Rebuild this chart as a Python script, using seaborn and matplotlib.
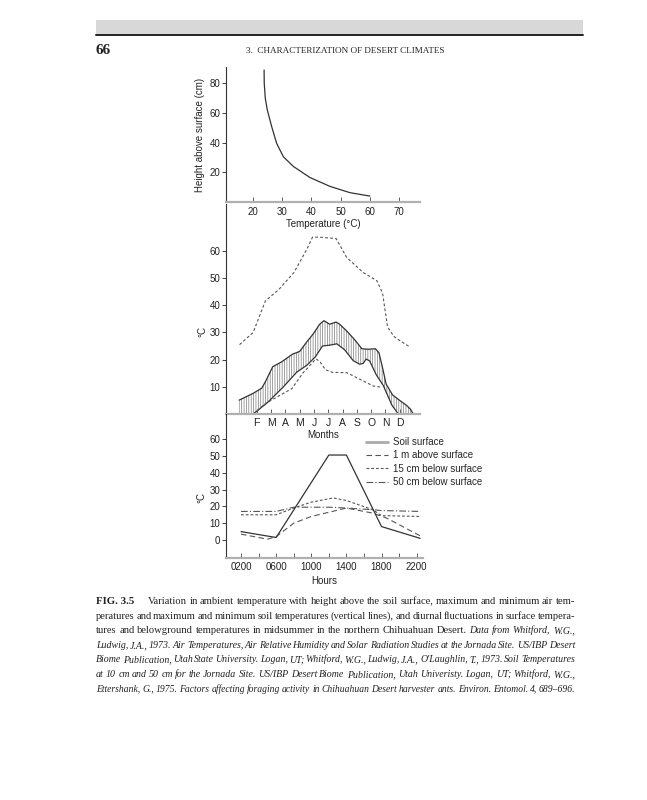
import numpy as np
import matplotlib
matplotlib.use("Agg")
import matplotlib.pyplot as plt
import seaborn as sns
from matplotlib.lines import Line2D
from matplotlib.patches import Rectangle

W, H = 647, 800

# ----------------------------
# Panel 1: temperature vs height above surface
# ----------------------------
height_temp = [23.8, 23.85, 24.2, 24.9, 26.4, 28.1, 30.4, 33.8, 39.5, 46.4, 53.2, 60.0]
height_cm = [89, 80, 70, 62, 50.8, 39.5, 30.5, 24, 16.5, 10.5, 6.3, 4]
temp_ticks = [20, 30, 40, 50, 60, 70]
height_ticks = [20, 40, 60, 80]

# ----------------------------
# Panel 2: monthly air / soil temperatures (x in months, F = 2 ... D = 12)
# ----------------------------
month_ticks = [2, 3, 4, 5, 6, 7, 8, 9, 10, 11, 12]
month_labels = ["F", "M", "A", "M", "J", "J", "A", "S", "O", "N", "D"]
month_yticks = [10, 20, 30, 40, 50, 60]

air_max_m = [0.8, 1.75, 2.6, 3.55, 4.6, 5.5, 5.9, 6.4, 7.55, 8.3, 9.45, 10.4, 10.8, 11.15, 11.6, 12.0, 12.7]
air_max_t = [25.5, 30, 41.5, 45.8, 52, 60.5, 65, 65, 64.5, 57.5, 52, 49, 44.5, 32, 28.5, 27, 24.7]

air_min_m = [1.76, 2.6, 3.6, 4.45, 5.25, 6.15, 6.45, 6.8, 7.3, 8.3, 9.2, 10.15, 10.75]
air_min_t = [0, 3.8, 6.8, 9.3, 15.2, 20.3, 19, 16.3, 15.3, 15.2, 12.8, 10.3, 9.8]

soil_max_m = [0.77, 1.75, 2.35, 2.6, 3.12, 3.75, 4.5, 5.0, 5.5, 5.96, 6.4, 6.7, 7.1, 7.55, 7.8,
              8.3, 8.9, 9.35, 9.8, 10.3, 10.55, 10.8, 11.05, 11.5, 12.0, 12.45, 12.75, 12.95]
soil_max_t = [5.1, 7.6, 9.5, 11.8, 17.4, 19.2, 22, 23, 26.5, 29.5, 33, 34.3, 33, 33.8, 33,
              30.5, 27, 24, 23.8, 24, 22.5, 17, 11, 7, 5, 3.3, 1.8, 0]

soil_min_m = [1.76, 2.75, 3.85, 4.8, 5.5, 6.1, 6.6, 7.1, 7.6, 8.15, 8.75, 9.2, 9.45, 9.65, 9.9,
              10.35, 10.85, 11.45, 11.9]
soil_min_t = [0, 4.2, 9.9, 15.4, 17.9, 21, 25, 25.3, 25.8, 23.6, 19.6, 18.3, 18.6, 20.2, 19.5,
              14.5, 10.5, 3.3, 0]

# ----------------------------
# Panel 3: diurnal temperatures in midsummer
# ----------------------------
hour_ticks = [2, 6, 10, 14, 18, 22]
hour_labels = ["0200", "0600", "1000", "1400", "1800", "2200"]
hour_minor = [4, 8, 12, 16, 20]
hour_yticks = [0, 10, 20, 30, 40, 50, 60]

surf_h = [2, 6, 12, 14, 18, 22.4]
surf_t = [5, 1.5, 50.5, 50.5, 8, 1]

air1m_h = [2, 5, 6, 8, 10, 14, 17, 18.6, 22.4]
air1m_t = [3.5, 0.5, 2, 10, 14, 19, 16, 13, 2.5]

cm15_h = [2, 6, 8, 10, 12.5, 14, 17, 18, 22.4]
cm15_t = [15, 15, 19, 22.5, 25, 23.5, 18, 14.5, 14]

cm50_h = [2, 6, 8, 12, 14, 17, 18, 22.4]
cm50_t = [17, 17, 19.5, 19.5, 19, 18, 17.5, 17]

legend_labels = ["Soil surface", "1 m above surface", "15 cm below surface", "50 cm below surface"]


def fx(px):
    return px / W


def fy(py):
    return 1 - py / H


def style_axis(ax):
    for s in ("top", "right"):
        ax.spines[s].set_visible(False)
    ax.spines["left"].set_color("#333333")
    ax.spines["left"].set_linewidth(0.8)
    ax.spines["bottom"].set_color("#b0b0b0")
    ax.spines["bottom"].set_linewidth(1.6)
    ax.tick_params(axis="y", direction="out", length=3, width=0.6, pad=1,
                   labelsize=7, colors="#222222")
    ax.tick_params(axis="x", which="both", direction="in", length=3.5, width=0.6,
                   pad=3.3, labelsize=7, colors="#444444", labelcolor="#222222")
    ax.patch.set_visible(False)


sns.set_theme(style="ticks")
plt.rcParams["font.family"] = ["Liberation Sans", "DejaVu Sans"]
plt.rcParams["hatch.linewidth"] = 0.5

fig = plt.figure(figsize=(W / 100, H / 100), dpi=100)
fig.patch.set_facecolor("white")

# ---- panel 1
ax1 = fig.add_axes([fx(226), fy(202), 194 / W, (202 - 67) / H])
sns.lineplot(x=height_temp, y=height_cm, ax=ax1, color="#333333", linewidth=0.9, sort=False)
ax1.set_xlim(10.75, 77.2)
ax1.set_ylim(0, 91)
ax1.set_xticks(temp_ticks)
ax1.set_yticks(height_ticks)
style_axis(ax1)
ax1.set_xlabel("Temperature (°C)", fontsize=7, labelpad=2, color="#222222")
ax1.set_ylabel("Height above surface (cm)", fontsize=7, color="#222222")
ax1.yaxis.set_label_coords((205 - 226) / 194, 0.5)

# ---- panel 2
ax2 = fig.add_axes([fx(226), fy(414), 194 / W, (414 - 204) / H])
xs = np.union1d(soil_max_m, soil_min_m)
hi = np.interp(xs, soil_max_m, soil_max_t)
lo = np.interp(xs, soil_min_m, soil_min_t, left=0, right=0)
ax2.fill_between(xs, lo, hi, facecolor="none", edgecolor="#7a7a7a",
                 hatch="|||||||", linewidth=0)
sns.lineplot(x=soil_max_m, y=soil_max_t, ax=ax2, color="#333333", linewidth=0.9)
sns.lineplot(x=soil_min_m, y=soil_min_t, ax=ax2, color="#333333", linewidth=0.9)
sns.lineplot(x=air_max_m, y=air_max_t, ax=ax2, color="#555555", linewidth=0.8,
             linestyle=(0, (2.5, 2)))
sns.lineplot(x=air_min_m, y=air_min_t, ax=ax2, color="#555555", linewidth=0.8,
             linestyle=(0, (2.5, 2)))
ax2.set_xlim(-0.15, 13.42)
ax2.set_ylim(0, (414 - 204) / 2.72)
ax2.set_xticks(month_ticks)
ax2.set_xticklabels(month_labels)
ax2.set_yticks(month_yticks)
style_axis(ax2)
ax2.tick_params(axis="x", labelsize=7.5, pad=3)
ax2.set_xlabel("Months", fontsize=7, labelpad=1, color="#222222")
ax2.set_ylabel("°C", fontsize=7, color="#222222")
ax2.yaxis.set_label_coords((207 - 226) / 194, (414 - 332) / (414 - 204))

# ---- panel 3
ax3 = fig.add_axes([fx(226), fy(557.7), (422.7 - 226) / W, (557.7 - 414) / H])
sns.lineplot(x=cm50_h, y=cm50_t, ax=ax3, color="#555555", linewidth=0.8,
             linestyle=(0, (6, 2, 1, 2)))
sns.lineplot(x=cm15_h, y=cm15_t, ax=ax3, color="#555555", linewidth=0.8,
             linestyle=(0, (2.5, 1.8)))
sns.lineplot(x=air1m_h, y=air1m_t, ax=ax3, color="#555555", linewidth=0.8,
             linestyle=(0, (5, 3)))
sns.lineplot(x=surf_h, y=surf_t, ax=ax3, color="#333333", linewidth=0.9)
ax3.set_xlim(0.29, 22.69)
ax3.set_ylim(-10.5, -10.5 + (557.7 - 414) / 1.683)
ax3.set_xticks(hour_ticks)
ax3.set_xticklabels(hour_labels)
ax3.set_xticks(hour_minor, minor=True)
ax3.set_yticks(hour_yticks)
style_axis(ax3)
ax3.set_xlabel("Hours", fontsize=7, labelpad=3, color="#222222")
ax3.set_ylabel("°C", fontsize=7, color="#222222")
ax3.yaxis.set_label_coords((207 - 226) / 194, (557.7 - 497) / (557.7 - 414))

handles = [
    Line2D([], [], color="#aaaaaa", linewidth=2),
    Line2D([], [], color="#555555", linewidth=0.8, linestyle=(0, (5, 3))),
    Line2D([], [], color="#555555", linewidth=0.8, linestyle=(0, (2.5, 1.8))),
    Line2D([], [], color="#555555", linewidth=0.8, linestyle=(0, (6, 2, 1, 2))),
]
fig.legend(handles, legend_labels, loc="upper left", bbox_to_anchor=(fx(366), fy(437)),
           frameon=False, fontsize=7, handlelength=2.3, handletextpad=0.5,
           labelspacing=0.35, borderpad=0, borderaxespad=0)

# ----------------------------
# Page furniture: running head and caption
# ----------------------------
fig.add_artist(Rectangle((fx(96), fy(34)), (583 - 96) / W, 14 / H,
                         transform=fig.transFigure, facecolor="#d8d8d8", edgecolor="none"))
fig.add_artist(Line2D([fx(96), fx(583)], [fy(35), fy(35)], transform=fig.transFigure,
                      color="#222222", linewidth=1.4))
serif = "Liberation Serif"
fig.text(fx(96), fy(54), "66", family=serif, fontsize=11, fontweight="bold",
         color="#222222", va="baseline")
fig.text(fx(345), fy(53), "3.  CHARACTERIZATION OF DESERT CLIMATES", family=serif,
         fontsize=6.6, color="#222222", ha="center", va="baseline")

roman = dict(family=serif, fontsize=7.6, color="#222222")
italic = dict(family=serif, fontsize=7.1, color="#222222", style="italic")
italic_last = dict(italic, fontsize=6.9)

caption = [
    [("Variation in ambient temperature with height above the soil surface, maximum and minimum air tem-", roman)],
    [("peratures and maximum and minimum soil temperatures (vertical lines), and diurnal fluctuations in surface tempera-", roman)],
    [("tures and belowground temperatures in midsummer in the northern Chihuahuan Desert.", roman),
     ("Data from Whitford, W.G.,", italic)],
    [("Ludwig, J.A., 1973. Air Temperatures, Air Relative Humidity and Solar Radiation Studies at the Jornada Site. US/IBP Desert", italic)],
    [("Biome Publication, Utah State University. Logan, UT; Whitford, W.G., Ludwig, J.A., O'Laughlin, T., 1973. Soil Temperatures", italic)],
    [("at 10 cm and 50 cm for the Jornada Site. US/IBP Desert Biome Publication, Utah Univeristy. Logan, UT; Whitford, W.G.,", italic)],
    [("Ettershank, G., 1975. Factors affecting foraging activity in Chihuahuan Desert harvester ants. Environ. Entomol. 4, 689–696.", italic_last)],
]

renderer = fig.canvas.get_renderer()
fig.text(fx(96), fy(604), "FIG. 3.5", family=serif, fontsize=7.8, fontweight="bold",
         color="#222222", va="baseline")
for i, runs in enumerate(caption):
    y = 604 + 14.6 * i
    x0 = 148 if i == 0 else 96
    arts = []
    for text, st in runs:
        for w in text.split():
            arts.append(fig.text(0, fy(y), w, va="baseline", ha="left", **st))
    widths = [a.get_window_extent(renderer).width for a in arts]
    last = i == len(caption) - 1
    gap = 1.9 if last else (575 - x0 - sum(widths)) / (len(arts) - 1)
    x = x0
    for a, w in zip(arts, widths):
        a.set_x(fx(x))
        x += w + gap

fig.savefig("out.png", dpi=100)
